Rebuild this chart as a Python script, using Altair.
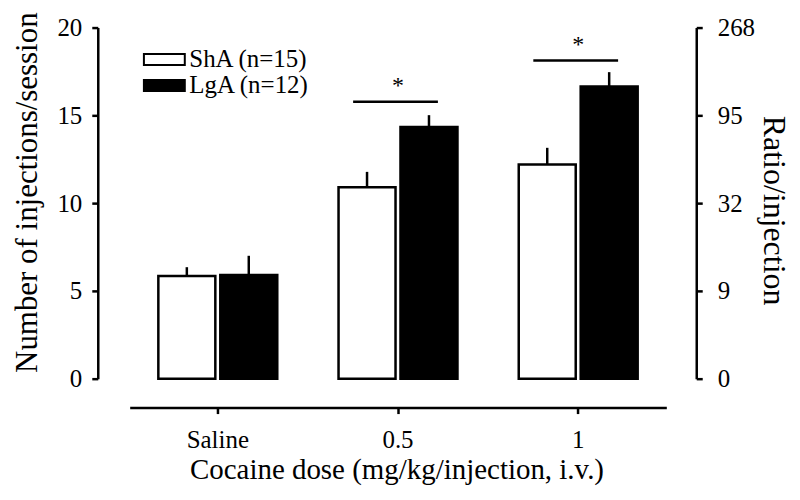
import altair as alt
import pandas as pd

# ---- data ----
doses = ["Saline", "0.5", "1"]
groups = ["ShA (n=15)", "LgA (n=12)"]
sha_mean = [5.85, 10.9, 12.2]
sha_sem = [0.5, 0.88, 0.95]
lga_mean = [5.9, 14.33, 16.65]
lga_sem = [1.1, 0.68, 0.81]
sig_doses = ["0.5", "1"]
sig_level = [15.78, 18.12]
left_ticks = [0, 5, 10, 15, 20]
right_labels = ["0", "9", "32", "95", "268"]

rows = []
for i, d in enumerate(doses):
    rows.append({"dose": d, "group": groups[0], "mean": sha_mean[i], "upper": sha_mean[i] + sha_sem[i]})
    rows.append({"dose": d, "group": groups[1], "mean": lga_mean[i], "upper": lga_mean[i] + lga_sem[i]})
df = pd.DataFrame(rows)
sig = pd.DataFrame({"dose": sig_doses, "y": sig_level, "star": ["*"] * len(sig_doses)})

FONT = "Liberation Serif"
ydom = [left_ticks[0], left_ticks[-1]]

xscale = alt.Scale(domain=doses, paddingInner=0.34, paddingOuter=0.159)
xaxis = alt.Axis(
    labelAngle=0, offset=29, domainWidth=2.5, tickWidth=2.5, tickSize=6,
    labelFontSize=25, labelPadding=14, titleFontSize=29, titleFontWeight="normal",
    titleX=267.5, titleY=71, titleBaseline="alphabetic", grid=False,
    domainColor="black", tickColor="black", labelColor="black", titleColor="black",
)
X = alt.X("dose:N", scale=xscale, axis=xaxis, title="Cocaine dose (mg/kg/injection, i.v.)")
XOFF = alt.XOffset("group:N", scale=alt.Scale(domain=groups, paddingInner=0.08, paddingOuter=0))

yleft = alt.Y(
    "mean:Q",
    scale=alt.Scale(domain=ydom),
    title="Number of injections/session",
    axis=alt.Axis(
        values=left_ticks, offset=32, tickSize=6, tickWidth=2.5, domainWidth=2.5,
        labelFontSize=25, labelPadding=10, titleFontSize=31, titleFontWeight="normal",
        titleAngle=270, titleBaseline="alphabetic", titleX=-61, titleY=165,
        grid=False, domainColor="black", tickColor="black", labelColor="black", titleColor="black",
    ),
)

bars = alt.Chart(df).mark_bar(stroke="black", strokeWidth=2.5).encode(
    x=X,
    xOffset=XOFF,
    y=yleft,
    fill=alt.Fill(
        "group:N",
        scale=alt.Scale(domain=groups, range=["white", "black"]),
        legend=alt.Legend(
            orient="none", legendX=22.25, legendY=19.5, title=None,
            symbolType="M-2,-0.54H2V0.54H-2Z", symbolSize=420,
            symbolStrokeColor="black", symbolStrokeWidth=2,
            labelFontSize=25, labelOffset=12.5, labelColor="black", labelFont=FONT,
            rowPadding=0, padding=0,
        ),
    ),
)

err = alt.Chart(df).mark_rule(color="black", strokeWidth=2.5).encode(
    x=X, xOffset=XOFF, y=alt.Y("mean:Q"), y2="upper:Q"
)

sig_line = alt.Chart(sig).mark_rule(color="black", strokeWidth=2.5, xOffset=-45, x2Offset=40).encode(
    x=alt.X("dose:N", bandPosition=0.5),
    x2=alt.X2("dose:N", bandPosition=0.5),
    y=alt.Y("y:Q"),
)

stars = alt.Chart(sig).mark_text(
    font=FONT, fontSize=24, baseline="alphabetic", dy=-9, fill="black", color="black"
).encode(x=alt.X("dose:N", bandPosition=0.5), y=alt.Y("y:Q"), text="star:N")

left = alt.layer(bars, err, sig_line, stars)

label_expr = " : ".join(
    f"datum.value == {v} ? '{l}'" for v, l in zip(left_ticks, right_labels)
) + " : ''"

right = alt.Chart(df).mark_rule(opacity=0).encode(
    x=X,
    y=alt.Y(
        "mean:Q",
        scale=alt.Scale(domain=ydom),
        title="Ratio/injection",
        axis=alt.Axis(
            orient="right", values=left_ticks, labelExpr=label_expr, offset=30,
            tickSize=6, tickWidth=2.5, domainWidth=2.5, labelFontSize=25, labelPadding=15,
            titleFontSize=32, titleFontWeight="normal", titleAngle=90,
            titleBaseline="alphabetic", titleX=67, titleY=183, grid=False,
            domainColor="black", tickColor="black", labelColor="black", titleColor="black",
        ),
    ),
)

chart = (
    alt.layer(left, right)
    .resolve_scale(y="independent")
    .properties(
        width=538, height=352,
        autosize=alt.AutoSizeParams(type="none"),
        padding={"left": 122, "top": 19, "right": 126, "bottom": 112},
    )
    .configure(font=FONT)
    .configure_view(stroke=None)
)

chart.save("out.html", embed_options={"renderer": "svg", "actions": False})
